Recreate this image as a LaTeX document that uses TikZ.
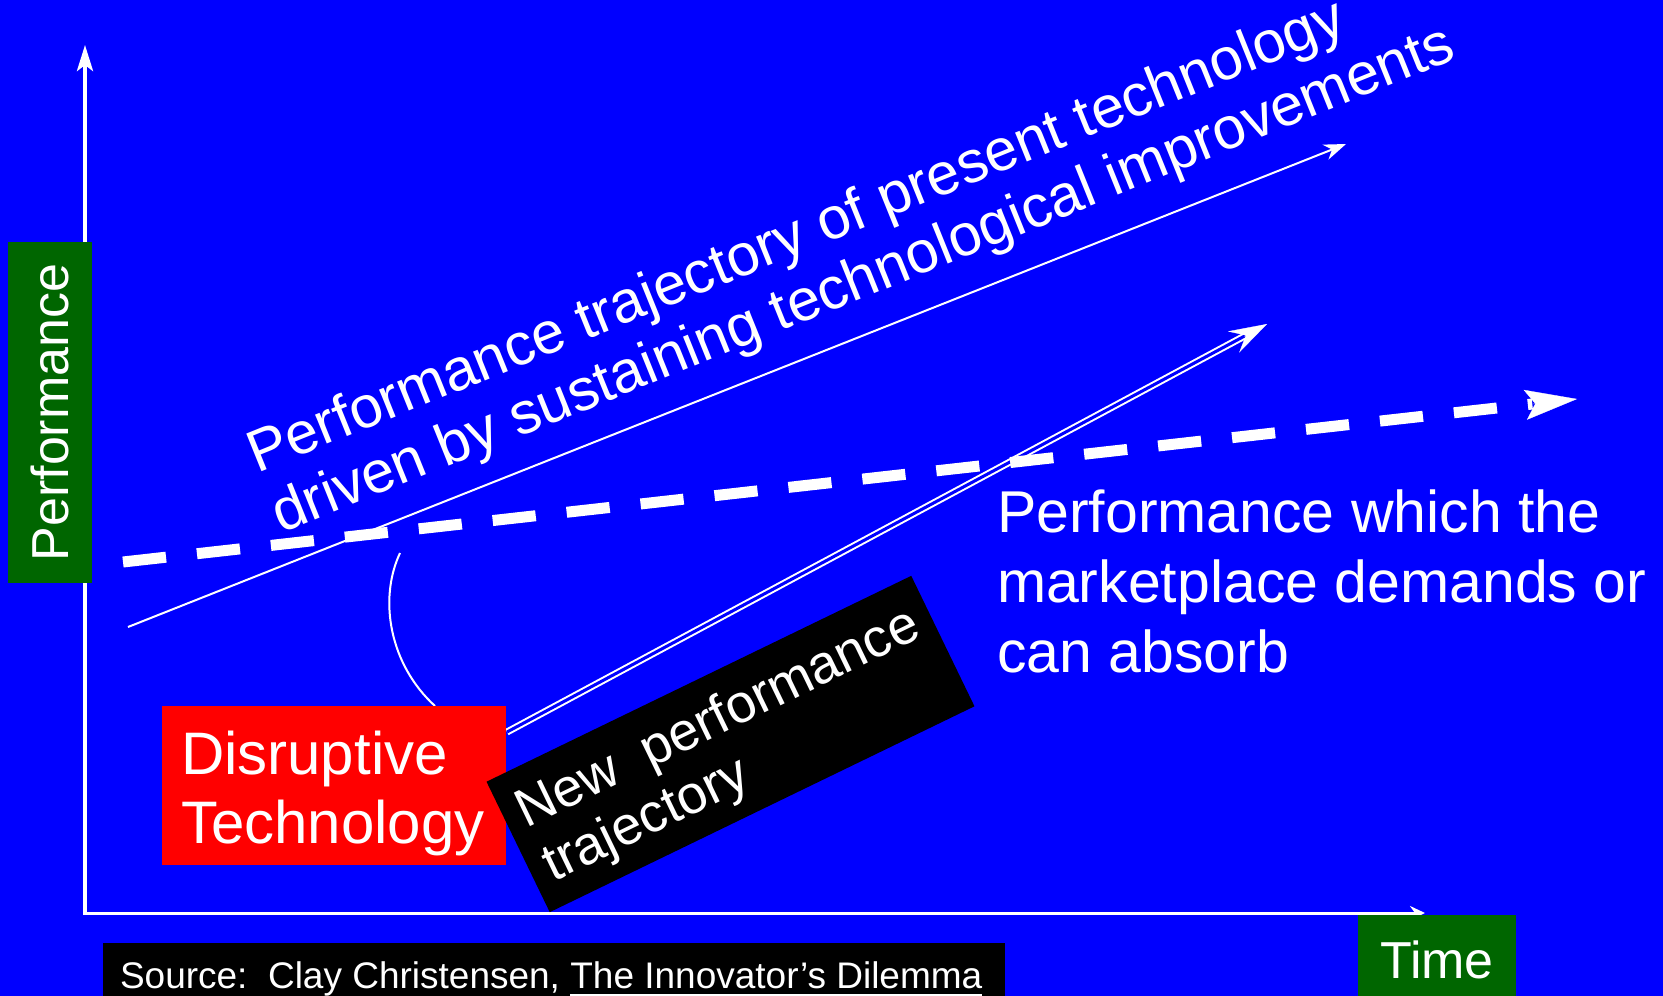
\documentclass[tikz,border=0pt]{standalone}
\usepackage{fontspec}
\setmainfont{Liberation Sans}
\usetikzlibrary{arrows.meta,calc}
\definecolor{bgblue}{RGB}{0,0,255}
\definecolor{boxgreen}{RGB}{0,102,0}
\definecolor{boxred}{RGB}{255,0,0}
\begin{document}
\begin{tikzpicture}[x=1pt,y=-1pt,
  lbl/.style={text=white, inner sep=0pt, outer sep=0pt},
  bigtxt/.style={font=\fontsize{59}{70}\selectfont},
  redtxt/.style={font=\fontsize{60}{70}\selectfont},
  smalltxt/.style={font=\fontsize{52}{60}\selectfont},
  boxtxt/.style={font=\fontsize{54}{60}\selectfont},
  srctxt/.style={font=\fontsize{37}{44}\selectfont},
  plainbox/.style={inner sep=0pt, outer sep=0pt},
  axisline/.style={white, line width=#1},
  thinline/.style={white, line width=2pt}]
% background and frame
\fill[bgblue] (0,0) rectangle (1663,996);
\useasboundingbox (0,0) rectangle (1663,996);

% coordinates for connector ends
\coordinate (origin) at (85,913);
\coordinate (ytop) at (85,45);
\coordinate (xend) at (1425,913);
\coordinate (tA) at (128,627);
\coordinate (tB) at (1346,144);
\coordinate (mA) at (123,562);
\coordinate (mB) at (1577,399);
\coordinate (dA) at (507,732);
\coordinate (dB) at (1267,324);
\coordinate (cA) at (400,553);
\coordinate (cB) at (435,706);

% axes
\draw[axisline=4pt, -{Stealth[length=26pt,width=16pt,inset=6pt]}] ([yshift=-1.5pt]origin) -- (ytop);
\draw[axisline=3pt, -{Stealth[length=15pt,width=14pt,inset=5pt]}] ([xshift=-2pt]origin) -- (xend);

% boxes
\node[plainbox, fill=boxgreen, rotate=90, minimum width=341pt, minimum height=84pt,
      text=white, smalltxt] (perf) at (50,412.5) {Performance};
\node[plainbox, fill=boxgreen, anchor=north west, minimum width=158pt, minimum height=81pt] (timebox) at (1358,915) {};
\node[lbl, smalltxt, anchor=base] (timelbl) at (1437,978) {Time};
\node[plainbox, fill=black, anchor=north west, minimum width=902pt, minimum height=53pt] (srcbox) at (103,943) {};
\node[lbl, srctxt, anchor=base west] (src1) at (120,988) {Source:\ \ Clay Christensen,};
\node[lbl, srctxt, anchor=base west, xshift=10.3pt] (src2) at (src1.base east) {The Innovator’s Dilemma};
\fill[white] ([yshift=-5.5pt]src2.base west) rectangle ([yshift=-8.5pt]src2.base east);

% thin sustaining arrow
\draw[thinline, -{Stealth[length=22pt,width=16pt,inset=7pt]}] (tA) -- (tB);

% double arrow (new performance trajectory)
\draw[white, line width=2pt, double=bgblue, double distance=3pt, shorten >=22pt] (dA) -- (dB);
\draw[white, line width=0.3pt, -{Stealth[length=38pt,width=24pt,inset=14pt]}] ($(dB)!26pt!(dA)$) -- (dB);

% dashed market demand arrow
\draw[white, line width=11pt, dash pattern=on 43.3pt off 31.1pt, shorten >=45pt] (mA) -- (mB);
\draw[white, line width=0.3pt, -{Stealth[length=52pt,width=30pt,inset=10pt]}] ($(mB)!44pt!(mA)$) -- (mB);

% curve from red box
\draw[thinline] (cA) .. controls (378,600) and (390,665) .. (cB);

% red box
\node[plainbox, fill=boxred, anchor=north west, minimum width=344pt, minimum height=159pt] (redbox) at (162,706) {};
\node[lbl, redtxt, anchor=base west] (dis1) at (181,774) {Disruptive};
\node[lbl, redtxt, anchor=base west] (dis2) at (181,843) {Technology};

% black rotated box
\node[plainbox, fill=black, rotate=25.86, minimum width=472pt, minimum height=145pt] (newbox) at (730.5,744) {};
\node[lbl, boxtxt, anchor=base west, rotate=25.86] (new1) at (526.4,828.7) {New\ \ performance};
\node[lbl, boxtxt, anchor=base west, rotate=25.86] (new2) at (553.2,882.5) {trajectory};

% title text
\node[lbl, bigtxt, anchor=base west, rotate=22] (ttl1) at (257,473) {Performance trajectory of present technology};
\node[lbl, bigtxt, anchor=base west, rotate=22] (ttl2) at (281.4,533.3) {driven by sustaining technological improvements};

% right text
\node[lbl, bigtxt, anchor=base west] (mk1) at (997,532) {Performance which the};
\node[lbl, bigtxt, anchor=base west] (mk2) at (997,602) {marketplace demands or};
\node[lbl, bigtxt, anchor=base west] (mk3) at (997,672) {can absorb};
\end{tikzpicture}
\end{document}
